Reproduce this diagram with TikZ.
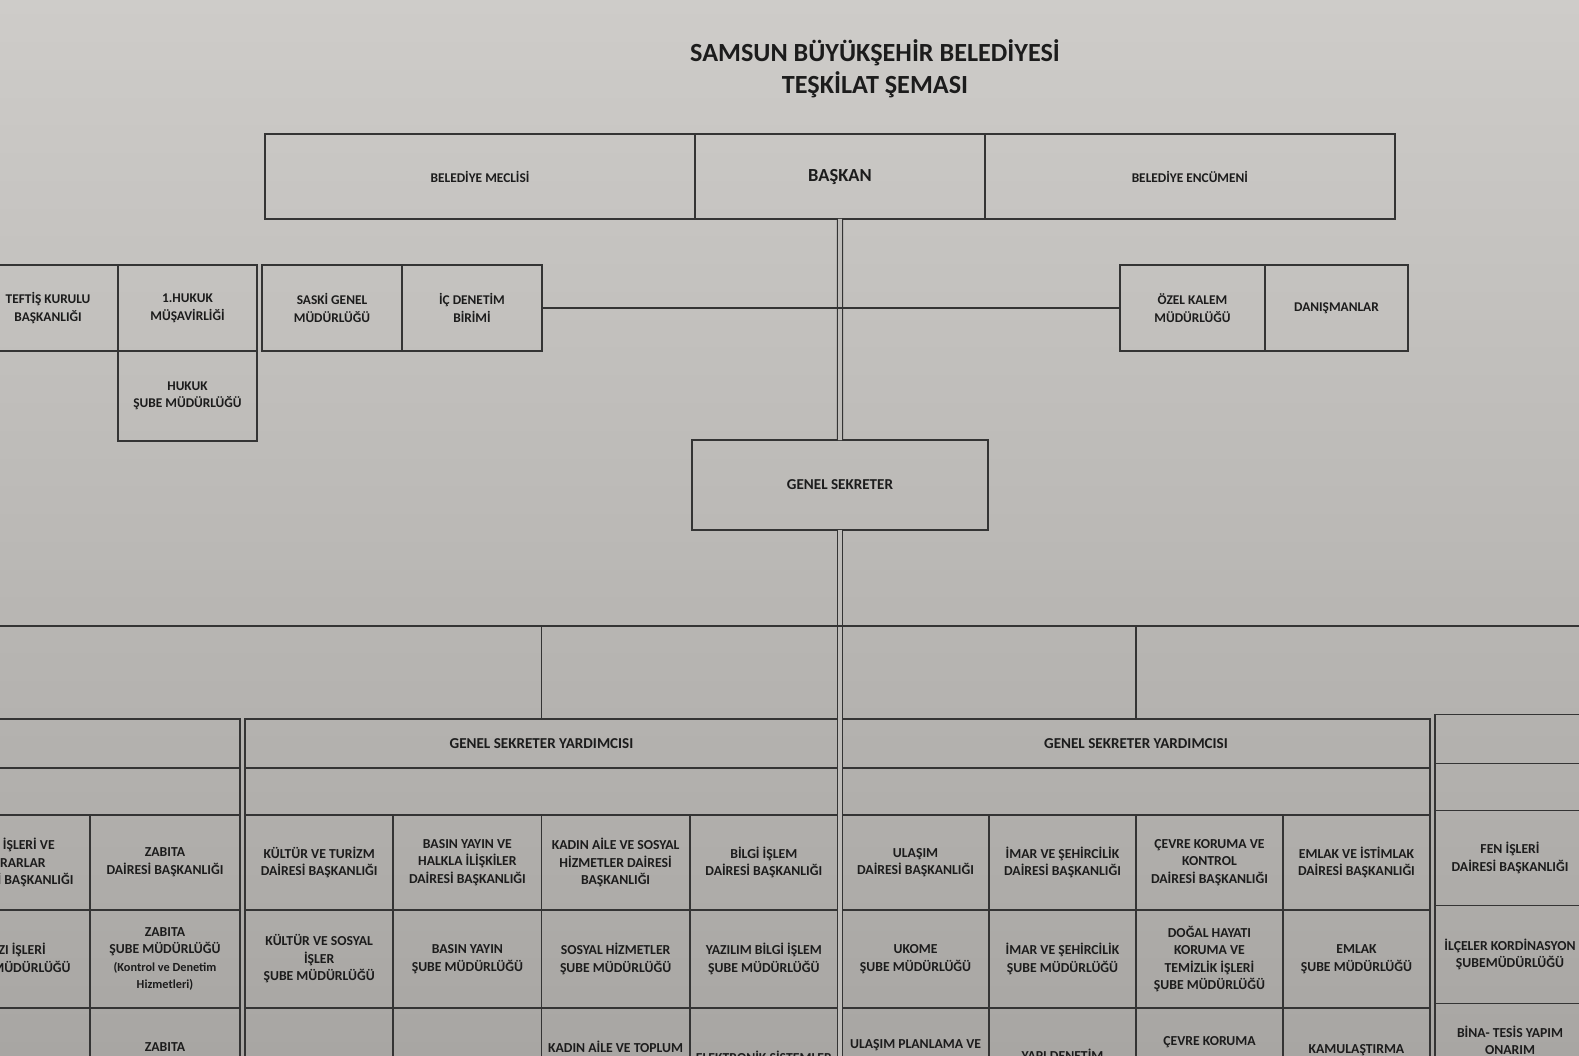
\documentclass[tikz,border=0pt]{standalone}
\usepackage{fontspec}
\setmainfont{Carlito}
\usetikzlibrary{positioning}
\definecolor{PaperTop}{RGB}{206,204,201}
\definecolor{PaperBottom}{RGB}{168,166,163}
\definecolor{PaperMid}{RGB}{190,188,185}
\definecolor{InkGray}{RGB}{28,28,28}
\definecolor{LineGray}{RGB}{52,52,52}

\begin{document}
\begin{tikzpicture}[x=0.02cm, y=-0.02cm, every node/.style={text=InkGray},
  box/.style={rectangle, draw=LineGray, line width=0.9pt, outer sep=0pt, inner sep=1pt, align=center, font=\bfseries\fontsize{7.6}{10}\selectfont},
  topbox/.style={box, minimum height=1.7cm},
  sidebox/.style={box, minimum height=1.72cm},
  headbox/.style={box, minimum height=0.98cm, font=\bfseries\fontsize{8.6}{10}\selectfont},
  bandbox/.style={box, minimum height=0.94cm},
  unit/.style={box, font=\bfseries\fontsize{7.8}{10}\selectfont},
  rowA/.style={minimum height=1.9cm},
  rowB/.style={minimum height=1.96cm},
  rowC/.style={minimum height=2.04cm},
  colM/.style={minimum width=2.965cm},
  colR/.style={minimum width=2.94cm},
  colL/.style={minimum width=3cm},
  cut/.style={anchor=north, inner sep=0pt, align=center, font=\bfseries\fontsize{7.8}{10}\selectfont},
  link/.style={draw=LineGray, line width=0.9pt},
  spine/.style={draw=LineGray, line width=0.7pt, double=PaperMid, double distance=2.2pt}
]
\useasboundingbox (0,0) rectangle (1579,1055);
\clip (0,0) rectangle (1579,1055);
\shade[top color=PaperTop, bottom color=PaperBottom] (0,0) rectangle (1579,1055);

% Title
\node[font=\bfseries\fontsize{14.9}{18}\selectfont, align=center] (title) at (875,69) {SAMSUN BÜYÜKŞEHİR BELEDİYESİ\\TEŞKİLAT ŞEMASI};

% Top row
\node[topbox, minimum width=8.6cm] (meclis) at (480,176.5) {BELEDİYE MECLİSİ};
\node[topbox, minimum width=5.8cm, right=0pt of meclis, font=\bfseries\fontsize{10.5}{12}\selectfont] (baskan) {BAŞKAN};
\node[topbox, minimum width=8.2cm, right=0pt of baskan] (encumen) {BELEDİYE ENCÜMENİ};

% Units attached to the mayor
\node[sidebox, minimum width=2.8cm] (teftis) at (48,308) {TEFTİŞ KURULU\\BAŞKANLIĞI};
\node[sidebox, minimum width=2.78cm, right=0pt of teftis] (hukuk) {1.HUKUK\\MÜŞAVİRLİĞİ};
\node[box, minimum width=2.78cm, minimum height=1.8cm, below=0pt of hukuk] (hukuksube) {HUKUK\\ŞUBE MÜDÜRLÜĞÜ};
\node[sidebox, minimum width=2.8cm] (saski) at (332,308) {SASKİ GENEL\\MÜDÜRLÜĞÜ};
\node[sidebox, minimum width=2.8cm, right=0pt of saski] (icdenetim) {İÇ DENETİM\\BİRİMİ};
\node[sidebox, minimum width=2.9cm] (ozelkalem) at (1192.5,308) {ÖZEL KALEM\\MÜDÜRLÜĞÜ};
\node[sidebox, minimum width=2.86cm, right=0pt of ozelkalem] (danisman) {DANIŞMANLAR};

% General secretary
\node[box, minimum width=5.92cm, minimum height=1.8cm, font=\bfseries\fontsize{8.6}{10}\selectfont] (gs) at (840,485) {GENEL SEKRETER};

% Left section (cut by the page)
\node[headbox, minimum width=6cm] (gsy0) at (90,743.5) {};
\node[bandbox, minimum width=6cm, below=0pt of gsy0] (band0) {};
\node[unit, colL, rowA, below right=0pt and 0pt of band0.south west] (yazi) {YAZI İŞLERİ VE\\KARARLAR\\DAİRESİ BAŞKANLIĞI};
\node[unit, colL, rowA, right=0pt of yazi] (zabita) {ZABITA\\DAİRESİ BAŞKANLIĞI};
\node[unit, colL, rowB, below=0pt of yazi] (yazisube) {YAZI İŞLERİ\\ŞUBE MÜDÜRLÜĞÜ};
\node[unit, colL, rowB, below=0pt of zabita] (zabitasube) {ZABITA\\ŞUBE MÜDÜRLÜĞÜ\\{\fontsize{7}{10}\selectfont (Kontrol ve Denetim}\\{\fontsize{7}{10}\selectfont Hizmetleri)}};
\node[unit, colL, rowC, below=0pt of yazisube] (yazic) {};
\node[unit, colL, rowC, below=0pt of zabitasube, label={[cut, yshift=-0.68cm]north:ZABITA}] (zabitac) {};

% Middle section
\node[headbox, minimum width=11.86cm] (gsy1) at (541.5,743.5) {GENEL SEKRETER YARDIMCISI};
\node[bandbox, minimum width=11.86cm, below=0pt of gsy1] (band1) {};
\node[unit, colM, rowA, below right=0pt and 0pt of band1.south west] (kultur) {KÜLTÜR VE TURİZM\\DAİRESİ BAŞKANLIĞI};
\node[unit, colM, rowA, right=0pt of kultur] (basin) {BASIN YAYIN VE\\HALKLA İLİŞKİLER\\DAİRESİ BAŞKANLIĞI};
\node[unit, colM, rowA, right=0pt of basin] (kadin) {KADIN AİLE VE SOSYAL\\HİZMETLER DAİRESİ\\BAŞKANLIĞI};
\node[unit, colM, rowA, right=0pt of kadin] (bilgi) {BİLGİ İŞLEM\\DAİRESİ BAŞKANLIĞI};
\node[unit, colM, rowB, below=0pt of kultur] (kultursube) {KÜLTÜR VE SOSYAL\\İŞLER\\ŞUBE MÜDÜRLÜĞÜ};
\node[unit, colM, rowB, below=0pt of basin] (basinsube) {BASIN YAYIN\\ŞUBE MÜDÜRLÜĞÜ};
\node[unit, colM, rowB, below=0pt of kadin] (sosyalsube) {SOSYAL HİZMETLER\\ŞUBE MÜDÜRLÜĞÜ};
\node[unit, colM, rowB, below=0pt of bilgi] (yazilimsube) {YAZILIM BİLGİ İŞLEM\\ŞUBE MÜDÜRLÜĞÜ};
\node[unit, colM, rowC, below=0pt of kultursube] (kulturc) {};
\node[unit, colM, rowC, below=0pt of basinsube] (basinc) {};
\node[unit, colM, rowC, below=0pt of sosyalsube, label={[cut, yshift=-0.66cm]north:KADIN AİLE VE TOPLUM}] (kadinc) {};
\node[unit, colM, rowC, below=0pt of yazilimsube, label={[cut, yshift=-0.86cm]north:ELEKTRONİK SİSTEMLER}] (bilgic) {};

% Right section
\node[headbox, minimum width=11.76cm] (gsy2) at (1136,743.5) {GENEL SEKRETER YARDIMCISI};
\node[bandbox, minimum width=11.76cm, below=0pt of gsy2] (band2) {};
\node[unit, colR, rowA, below right=0pt and 0pt of band2.south west] (ulasim) {ULAŞIM\\DAİRESİ BAŞKANLIĞI};
\node[unit, colR, rowA, right=0pt of ulasim] (imar) {İMAR VE ŞEHİRCİLİK\\DAİRESİ BAŞKANLIĞI};
\node[unit, colR, rowA, right=0pt of imar] (cevre) {ÇEVRE KORUMA VE\\KONTROL\\DAİRESİ BAŞKANLIĞI};
\node[unit, colR, rowA, right=0pt of cevre] (emlak) {EMLAK VE İSTİMLAK\\DAİRESİ BAŞKANLIĞI};
\node[unit, colR, rowB, below=0pt of ulasim] (ukome) {UKOME\\ŞUBE MÜDÜRLÜĞÜ};
\node[unit, colR, rowB, below=0pt of imar] (imarsube) {İMAR VE ŞEHİRCİLİK\\ŞUBE MÜDÜRLÜĞÜ};
\node[unit, colR, rowB, below=0pt of cevre] (dogal) {DOĞAL HAYATI\\KORUMA VE\\TEMİZLİK İŞLERİ\\ŞUBE MÜDÜRLÜĞÜ};
\node[unit, colR, rowB, below=0pt of emlak] (emlaksube) {EMLAK\\ŞUBE MÜDÜRLÜĞÜ};
\node[unit, colR, rowC, below=0pt of ukome, label={[cut, yshift=-0.62cm]north:ULAŞIM PLANLAMA VE}] (ulasimc) {};
\node[unit, colR, rowC, below=0pt of imarsube, label={[cut, yshift=-0.82cm]north:YAPI DENETİM}] (yapi) {};
\node[unit, colR, rowC, below=0pt of dogal, label={[cut, yshift=-0.56cm]north:ÇEVRE KORUMA}] (cevrec) {};
\node[unit, colR, rowC, below=0pt of emlaksube, label={[cut, yshift=-0.72cm]north:KAMULAŞTIRMA}] (kamu) {};

% Far right section (cut by the page)
\node[headbox, minimum width=6cm] (gsy3) at (1585,739) {};
\node[bandbox, minimum width=6cm, below=0pt of gsy3] (band3) {};
\node[unit, colL, rowA, below right=0pt and 0pt of band3.south west] (fen) {FEN İŞLERİ\\DAİRESİ BAŞKANLIĞI};
\node[unit, colL, rowB, below=0pt of fen] (ilceler) {İLÇELER KORDİNASYON\\ŞUBEMÜDÜRLÜĞÜ};
\node[unit, colL, rowC, below=0pt of ilceler, label={[cut, yshift=-0.44cm]north:BİNA- TESİS YAPIM\\ONARIM}] (bina) {};

% Connectors
\coordinate (spineend) at (840,1065);
\coordinate (barW) at (-10,626);
\coordinate (barE) at (1590,626);
\draw[spine] (baskan.south) -- (gs.north);
\draw[spine] (gs.south) -- (spineend);
\draw[link] (icdenetim.east) -- (ozelkalem.west);
\draw[link] (barW) -- (barE);
\draw[link] (gsy1.north |- barW) -- (gsy1.north);
\draw[link] (gsy2.north |- barW) -- (gsy2.north);

\end{tikzpicture}
\end{document}
